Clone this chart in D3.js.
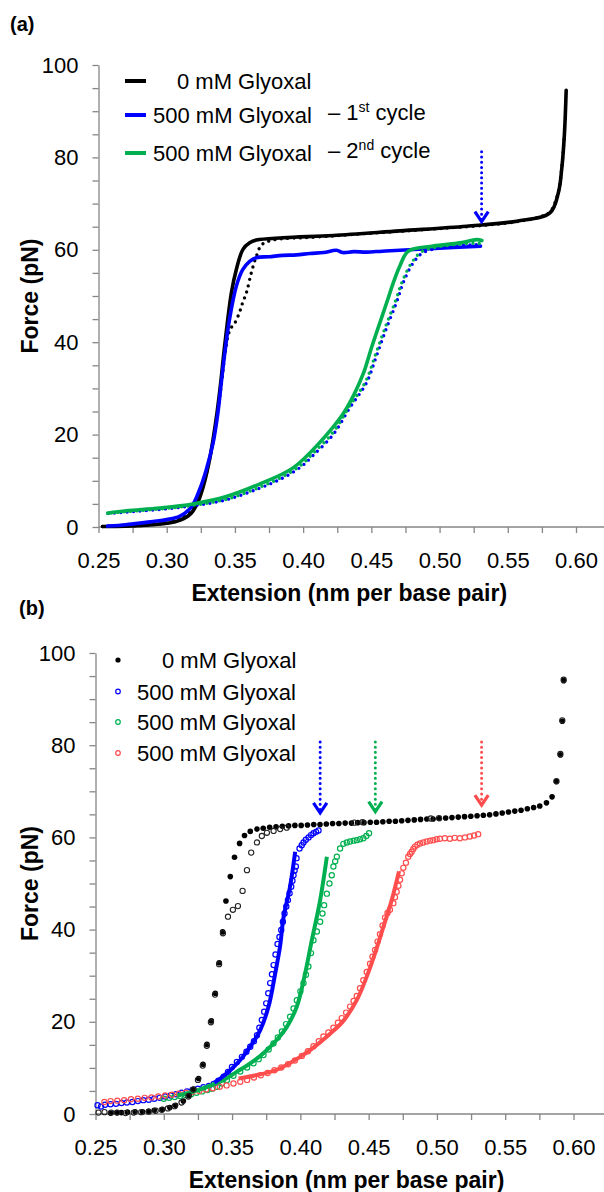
<!DOCTYPE html>
<html>
<head>
<meta charset="utf-8">
<script src="https://cdn.jsdelivr.net/npm/d3@7"></script>
<style>
    body { margin: 0; background: #fff; }
    svg { display: block; font-family: "Liberation Sans", Arial, sans-serif; }
</style>
</head>
<body>
<div id="chart"></div>
<script>
// extension (nm per base pair), force (pN)

/* panel (a) */
const blackStretchA = [[0.253,0.1],[0.27,0.2],[0.285,0.4],[0.30,0.8],[0.31,1.5],[0.318,3.0],[0.323,5.5],[0.327,9],[0.331,14],[0.334,19],[0.337,25],[0.3395,31],[0.3424,39],[0.3474,50.7],[0.351,55.7],[0.3559,60.1],[0.3608,61.5],[0.3657,62.1],[0.3852,62.6],[0.422,63.1],[0.4709,64.1],[0.5198,65.1],[0.5566,66.2],[0.5809,68],[0.5871,72.4],[0.5895,77.4],[0.5915,85],[0.5928,94.5]];
const blackReleaseA = [[0.253,0.1],[0.265,0.2],[0.28,0.3],[0.29,0.5],[0.30,0.9],[0.31,1.8],[0.318,3.5],[0.324,7],[0.329,11.5],[0.333,17],[0.337,24],[0.3405,32],[0.343,38],[0.3455,42],[0.3474,43.2],[0.350,44.2],[0.3535,46.6],[0.3557,48.6],[0.3584,50.7],[0.362,55],[0.3657,58.6],[0.3694,61],[0.375,61.9],[0.385,62.4],[0.40,62.6],[0.422,63.0],[0.445,63.5],[0.4709,64.0],[0.495,64.5],[0.5198,65.0],[0.54,65.5],[0.5566,66.1],[0.572,67],[0.5809,68.2],[0.5871,72.6],[0.5895,77.6],[0.5915,85]];
const blueStretchA = [[0.2566,0.2],[0.27,0.5],[0.282,0.9],[0.29,1.2],[0.300,1.6],[0.3094,2.3],[0.318,4.3],[0.324,8],[0.329,12.4],[0.334,18.2],[0.3375,24.7],[0.340,31.2],[0.3425,37.5],[0.346,44.9],[0.351,52.1],[0.3557,55.7],[0.3608,57.5],[0.3657,58.3],[0.375,58.5],[0.385,58.8],[0.395,58.9],[0.4049,59.2],[0.415,59.4],[0.4244,59.9],[0.429,59.4],[0.437,59.6],[0.4464,59.5],[0.458,59.7],[0.471,59.9],[0.49,60.2],[0.51,60.5],[0.53,60.8]];
const blueReleaseA = [[0.257,2.9],[0.27,3.2],[0.2948,3.8],[0.3192,4.6],[0.3437,5.9],[0.3681,8.4],[0.385,10.6],[0.3987,13.1],[0.4073,15.5],[0.422,20.0],[0.4342,25.8],[0.4464,31.2],[0.4537,37.0],[0.461,43.0],[0.4684,48.6],[0.4735,53],[0.4807,57.2],[0.488,59.4],[0.5075,60.7],[0.527,61.1],[0.531,61.0]];
const greenStretchA = [[0.2568,3.0],[0.2703,3.5],[0.2948,4.1],[0.3192,5.0],[0.3437,6.6],[0.3681,9.3],[0.3926,12.8],[0.4122,18.3],[0.4293,24.5],[0.437,28.5],[0.4445,33.5],[0.4501,38.8],[0.4574,45.2],[0.4623,49.5],[0.4665,53.2],[0.4709,56.5],[0.477,59.7],[0.4953,60.8],[0.515,61.5],[0.5272,62.2],[0.531,62.0]];
const greenReleaseA = [[0.257,3.0],[0.27,3.3],[0.2948,3.9],[0.3192,4.7],[0.3437,6.0],[0.3681,8.6],[0.385,10.9],[0.3985,13.4],[0.4068,15.8],[0.4215,20.3],[0.4337,26.0],[0.4458,31.5],[0.453,37.3],[0.4603,43.3],[0.4678,49.0],[0.473,53.4],[0.4802,57.5],[0.4875,59.7],[0.507,61.0],[0.527,61.4],[0.531,61.3]];

const legendA = ["0 mM Glyoxal", "500 mM Glyoxal", "500 mM Glyoxal"];
const cycleA = [null, ["1", "st"], ["2", "nd"]];
const arrowXA = [0.5308], arrowTopA = [81.2], arrowTipA = [66.1];

/* panel (b) */
const blackFilledB = [[0.261,0.2],[0.2655,0.3],[0.269,0.3],[0.2734,0.4],[0.279,0.5],[0.2845,0.5],[0.2888,0.6],[0.293,0.8],[0.299,1.0],[0.3044,1.4],[0.3086,1.9],[0.3143,2.8],[0.3185,4.0],[0.3219,5.4],[0.3255,7.7],[0.3287,10.8],[0.3316,15.1],[0.3348,20.2],[0.3377,26.2],[0.3406,32.8],[0.3431,39.5],[0.3455,46.2],[0.3487,51.5],[0.3518,55.7],[0.3555,58.7],[0.3591,60.4],[0.3633,61.3],[0.3682,61.8],[0.3728,62.0],[0.3775,62.2],[0.3822,62.3],[0.3868,62.4],[0.3914,62.5],[0.396,62.6],[0.4006,62.6],[0.4052,62.7],[0.4098,62.8],[0.4144,62.8],[0.419,62.9],[0.4236,63.0],[0.4282,63.0],[0.4328,63.1],[0.4374,63.1],[0.442,63.2],[0.4466,63.2],[0.4512,63.3],[0.4558,63.3],[0.4604,63.4],[0.465,63.5],[0.4696,63.5],[0.4742,63.6],[0.4788,63.7],[0.4834,63.8],[0.488,63.9],[0.4926,64.0],[0.4972,64.0],[0.5018,64.1],[0.5064,64.2],[0.511,64.3],[0.5156,64.4],[0.5202,64.5],[0.5248,64.6],[0.5294,64.7],[0.534,64.8],[0.5386,64.9],[0.5432,65.1],[0.5478,65.3],[0.5524,65.5],[0.557,65.7],[0.5616,65.9],[0.5662,66.2],[0.5708,66.5],[0.5753,66.8],[0.5802,67.5],[0.5843,68.8],[0.5875,72.1],[0.5904,77.9],[0.5918,85.2],[0.5928,94.0]];
const blackOpenB = [[0.2522,0.3],[0.2566,0.4],[0.2615,0.3],[0.266,0.3],[0.272,0.2],[0.278,0.3],[0.2835,0.4],[0.289,0.5],[0.294,0.7],[0.2985,0.9],[0.303,1.2],[0.308,1.7],[0.313,2.5],[0.318,3.8],[0.3215,5.3],[0.325,7.4],[0.3285,10.5],[0.3315,14.8],[0.3345,19.9],[0.3375,25.9],[0.3405,32.5],[0.3433,39.2],[0.347,42.8],[0.3506,44.3],[0.3543,45.1],[0.3577,48.4],[0.3609,52.9],[0.364,56.7],[0.3682,58.9],[0.3718,60.3],[0.3755,61.0],[0.3804,61.4],[0.3852,61.8],[0.39,62.1],[0.4395,63.2],[0.4455,63.3],[0.4955,64.1],[0.5015,64.2],[0.5875,72.2],[0.5904,78.1],[0.5918,85.4],[0.5928,94.2]];
const blueOpenB = [[0.2515,1.9],[0.254,1.6],[0.257,2.0],[0.261,2.1],[0.265,2.2],[0.269,2.4],[0.273,2.5],[0.277,2.6],[0.281,2.8],[0.285,3.0],[0.289,3.1],[0.293,3.3],[0.297,3.5],[0.301,3.8],[0.305,4.0],[0.309,4.3],[0.313,4.6],[0.317,4.9],[0.321,5.2],[0.325,5.5],[0.329,5.8],[0.333,6.1],[0.3365,6.5],[0.340,7.2],[0.3438,8.1],[0.347,9.1],[0.3499,10.2],[0.3535,11.3],[0.3572,12.4],[0.3605,13.5],[0.3633,14.6],[0.366,15.8],[0.3682,17.1],[0.370,18.7],[0.3718,20.4],[0.3735,22.2],[0.375,24.0],[0.3765,26.2],[0.3779,28.4],[0.3792,30.3],[0.3804,32.3],[0.3818,34.6],[0.3833,36.9],[0.3847,38.4],[0.386,39.9],[0.3872,41.7],[0.3884,43.5],[0.3897,45.0],[0.3909,46.4],[0.3921,47.9],[0.3933,49.3],[0.3942,50.6],[0.395,51.8],[0.3958,52.8],[0.3967,53.7],[0.3972,55.5],[0.3994,57.6],[0.401,58.3],[0.4023,58.9],[0.404,59.5],[0.406,60.0],[0.4078,60.5],[0.4096,60.9],[0.4115,61.2],[0.4133,61.5]];
const greenOpenB = [[0.300,3.3],[0.304,3.5],[0.308,3.7],[0.312,3.9],[0.316,4.1],[0.320,4.3],[0.324,4.6],[0.328,4.9],[0.332,5.2],[0.3355,5.5],[0.3389,5.9],[0.3425,6.6],[0.3463,7.4],[0.351,8.3],[0.356,9.2],[0.361,10.1],[0.3657,11.0],[0.3695,11.9],[0.373,12.8],[0.3768,14.0],[0.3803,15.3],[0.3835,16.6],[0.3865,17.9],[0.3895,19.5],[0.3925,21.1],[0.395,22.9],[0.3974,24.7],[0.400,26.6],[0.4023,28.4],[0.4041,30.2],[0.4059,32.0],[0.4078,34.9],[0.4096,37.7],[0.4121,39.6],[0.4145,41.7],[0.4162,43.5],[0.4174,45.3],[0.4194,47.8],[0.4213,50.0],[0.423,51.8],[0.4242,53.7],[0.4255,54.8],[0.4267,55.8],[0.4291,57.6],[0.4315,58.6],[0.434,58.9],[0.4364,59.1],[0.439,59.3],[0.4413,59.4],[0.4437,59.6],[0.4461,59.8],[0.4483,60.3],[0.4503,60.9]];
const redOpenB = [[0.2565,2.6],[0.261,2.8],[0.266,2.9],[0.271,3.0],[0.276,3.2],[0.281,3.3],[0.286,3.5],[0.291,3.6],[0.296,3.8],[0.301,4.0],[0.306,4.2],[0.311,4.4],[0.316,4.6],[0.321,4.8],[0.326,5.0],[0.331,5.3],[0.336,5.6],[0.341,5.9],[0.346,6.2],[0.351,6.6],[0.356,7.0],[0.361,7.4],[0.366,7.9],[0.371,8.4],[0.376,8.9],[0.381,9.5],[0.386,10.1],[0.391,10.8],[0.396,11.6],[0.4011,12.6],[0.4055,13.6],[0.4096,14.7],[0.4135,15.8],[0.4169,16.8],[0.4205,17.7],[0.4242,18.7],[0.4275,19.8],[0.4303,20.8],[0.4335,22.0],[0.4364,23.3],[0.439,24.5],[0.4413,25.6],[0.4437,27.3],[0.4461,29.0],[0.4486,30.8],[0.451,32.6],[0.4528,34.1],[0.4547,35.6],[0.4565,37.4],[0.4583,39.0],[0.4602,40.9],[0.462,42.6],[0.4638,43.6],[0.4656,44.3],[0.4681,45.7],[0.4693,47.0],[0.4705,48.2],[0.4718,49.5],[0.473,50.8],[0.4742,52.2],[0.4754,53.4],[0.4773,54.5],[0.479,55.8],[0.4803,56.4],[0.4815,56.9],[0.4827,57.5],[0.4839,58.0],[0.4857,58.4],[0.4876,58.7],[0.49,58.9],[0.4925,59.1],[0.495,59.3],[0.4973,59.4],[0.4998,59.6],[0.5022,59.7],[0.5058,59.8],[0.5095,59.7],[0.513,59.9],[0.5168,59.8],[0.5205,60.0],[0.5241,60.2],[0.5272,60.4],[0.5302,60.7]];
const blueLineB = [[0.337,6.8],[0.3414,7.7],[0.3487,9.5],[0.356,11.7],[0.3633,14.6],[0.3706,18.2],[0.3767,23.3],[0.3816,30.5],[0.3852,36.5],[0.3876,42.5],[0.3925,49.4],[0.3962,56.9]];
const greenLineB = [[0.310,4.0],[0.325,5.2],[0.3438,7.4],[0.3536,9.2],[0.3633,11.0],[0.373,13.2],[0.3828,16.1],[0.3901,18.9],[0.3974,23.3],[0.4035,30.5],[0.4084,37.7],[0.4145,46.4],[0.4194,55.8]];
const redLineB = [[0.3548,7.7],[0.3657,8.3],[0.3828,9.6],[0.3999,12.4],[0.4096,14.4],[0.4218,17.4],[0.4315,20.2],[0.4413,24.7],[0.4486,29.8],[0.4547,34.9],[0.4608,40.6],[0.4669,46.4],[0.4722,52.6]];

const legendB = ["0 mM Glyoxal", "500 mM Glyoxal", "500 mM Glyoxal", "500 mM Glyoxal"];
const arrowXB = [0.4145, 0.4549, 0.5327], arrowTopB = [80.7, 80.7, 80.7], arrowTipB = [65.3, 65.6, 67.0];

const xTicks = [0.25, 0.30, 0.35, 0.40, 0.45, 0.50, 0.55, 0.60];
const yTicks = [0, 20, 40, 60, 80, 100];

const BLUE = "#0000ff", GREEN = "#00b050", RED = "#ff4d4d", AXIS = "#868686";
const W = 604, H = 1192;

const svg = d3.select("#chart").append("svg")
    .attr("width", W)
    .attr("height", H);

function drawAxes(x, y, title) {
    const minorX = d3.range(10, 26).map(i => +(i * 0.025).toFixed(3));
    const minorY = d3.range(0, 21).map(i => i * 5);

    const gx = svg.append("g")
        .attr("transform", `translate(0, ${y(0)})`)
        .call(d3.axisBottom(x)
            .tickValues(minorX)
            .tickSize(6)
            .tickPadding(19)
            .tickFormat(d => xTicks.some(t => Math.abs(t - d) < 1e-6) ? d3.format(".2f")(d) : ""));
    gx.select(".domain").remove();
    gx.append("line")
        .attr("x1", x(0.25)).attr("x2", W)
        .attr("stroke", AXIS).attr("stroke-width", 1.3);

    const gy = svg.append("g")
        .attr("transform", `translate(${x(0.25)}, 0)`)
        .call(d3.axisLeft(y)
            .tickValues(minorY)
            .tickSize(6)
            .tickSizeOuter(0)
            .tickPadding(14)
            .tickFormat(d => yTicks.includes(d) ? d : ""));

    [gx, gy].forEach(g => {
        g.attr("font-size", 22).attr("font-family", null);
        g.selectAll("line, path").attr("stroke", AXIS).attr("stroke-width", 1.3);
        g.selectAll("text").attr("fill", "#000");
    });

    svg.append("text")
        .attr("x", (x(0.25) + x(0.60)) / 2 + 12)
        .attr("y", y(0) + 74)
        .attr("text-anchor", "middle")
        .attr("font-size", 23)
        .attr("font-weight", "bold")
        .text("Extension (nm per base pair)");

    svg.append("text")
        .attr("transform", `translate(38, ${(y(0) + y(100)) / 2}) rotate(-90)`)
        .attr("text-anchor", "middle")
        .attr("font-size", 23)
        .attr("font-weight", "bold")
        .text("Force (pN)");

    svg.append("text")
        .attr("x", title.x).attr("y", title.y)
        .attr("font-size", 20)
        .attr("font-weight", "bold")
        .text(title.t);
}

function drawArrows(x, y, xs, tops, tips, colors) {
    xs.forEach((v, i) => {
        const px = x(v), pTop = y(tops[i]), pTip = y(tips[i]);
        svg.append("line")
            .attr("x1", px).attr("x2", px)
            .attr("y1", pTop).attr("y2", pTip - 2)
            .attr("stroke", colors[i])
            .attr("stroke-width", 3)
            .attr("stroke-linecap", "round")
            .attr("stroke-dasharray", "0 5.2");
        svg.append("path")
            .attr("d", `M${px - 6.7},${pTip - 10}L${px},${pTip}L${px + 6.7},${pTip - 10}`)
            .attr("fill", "none")
            .attr("stroke", colors[i])
            .attr("stroke-width", 3.2);
    });
}

/* ---------- panel (a) ---------- */
const xA = d3.scaleLinear().domain([0.25, 0.60]).range([98.5, 576]);
const yA = d3.scaleLinear().domain([0, 100]).range([527, 65]);
drawAxes(xA, yA, {x: 10, y: 31, t: "(a)"});

const lineA = d3.line()
    .x(d => xA(d[0]))
    .y(d => yA(d[1]))
    .curve(d3.curveCatmullRom.alpha(0.5));

const seriesA = [
    {data: blackStretchA, color: "#000", dotted: false, off: 0},
    {data: blackReleaseA, color: "#000", dotted: true, off: 0},
    {data: blueStretchA, color: BLUE, dotted: false, off: 0},
    {data: blueReleaseA, color: BLUE, dotted: true, off: 0},
    {data: greenReleaseA, color: GREEN, dotted: true, off: 3},
    {data: greenStretchA, color: GREEN, dotted: false, off: 0}
];

svg.selectAll(".curveA")
    .data(seriesA)
    .enter()
    .append("path")
    .attr("class", "curveA")
    .attr("d", d => lineA(d.data))
    .attr("fill", "none")
    .attr("stroke", d => d.color)
    .attr("stroke-width", d => d.dotted ? 3.4 : 3.6)
    .attr("stroke-linecap", "round")
    .attr("stroke-linejoin", "round")
    .attr("stroke-dasharray", d => d.dotted ? "0 6.4" : null)
    .attr("stroke-dashoffset", d => d.off);

drawArrows(xA, yA, arrowXA, arrowTopA, arrowTipA, [BLUE]);

/* legend (a) */
const legColorsA = ["#000", BLUE, GREEN];
const legYA = [81, 115, 153];
legendA.forEach((label, i) => {
    svg.append("line")
        .attr("x1", 125).attr("x2", 146)
        .attr("y1", legYA[i]).attr("y2", legYA[i])
        .attr("stroke", legColorsA[i])
        .attr("stroke-width", 4);
    svg.append("text")
        .attr("x", i === 0 ? 177 : 153)
        .attr("y", legYA[i] + 8)
        .attr("font-size", 22)
        .text(label);
    if (cycleA[i]) {
        const t = svg.append("text")
            .attr("x", 328)
            .attr("y", legYA[i] + 5)
            .attr("font-size", 22);
        t.append("tspan").text("\u2013 " + cycleA[i][0]);
        t.append("tspan").attr("dy", -8).attr("font-size", 14).text(cycleA[i][1]);
        t.append("tspan").attr("dy", 8).text(" cycle");
    }
});

/* ---------- panel (b) ---------- */
const xB = d3.scaleLinear().domain([0.25, 0.60]).range([95.5, 573.5]);
const yB = d3.scaleLinear().domain([0, 100]).range([1114, 653]);
drawAxes(xB, yB, {x: 19, y: 615, t: "(b)"});

const lineB = d3.line()
    .x(d => xB(d[0]))
    .y(d => yB(d[1]))
    .curve(d3.curveCatmullRom.alpha(0.5));

const openSets = [
    {data: blueOpenB, color: BLUE},
    {data: greenOpenB, color: GREEN},
    {data: redOpenB, color: RED}
];
openSets.forEach(s => {
    svg.append("g")
        .selectAll("circle")
        .data(s.data)
        .enter()
        .append("circle")
        .attr("cx", d => xB(d[0]))
        .attr("cy", d => yB(d[1]))
        .attr("r", 2.6)
        .attr("fill", "none")
        .attr("stroke", s.color)
        .attr("stroke-width", 1.2);
});

[[redLineB, RED], [greenLineB, GREEN], [blueLineB, BLUE]].forEach(([data, color]) => {
    svg.append("path")
        .attr("d", lineB(data))
        .attr("fill", "none")
        .attr("stroke", color)
        .attr("stroke-width", 4)
        .attr("stroke-linecap", "butt");
});

svg.append("g")
    .selectAll("circle")
    .data(blackFilledB)
    .enter()
    .append("circle")
    .attr("cx", d => xB(d[0]))
    .attr("cy", d => yB(d[1]))
    .attr("r", 2.8)
    .attr("fill", "#000");

svg.append("g")
    .selectAll("circle")
    .data(blackOpenB)
    .enter()
    .append("circle")
    .attr("cx", d => xB(d[0]))
    .attr("cy", d => yB(d[1]))
    .attr("r", 2.6)
    .attr("fill", "none")
    .attr("stroke", "#222")
    .attr("stroke-width", 1.1);

drawArrows(xB, yB, arrowXB, arrowTopB, arrowTipB, [BLUE, GREEN, RED]);

/* legend (b) */
const legColorsB = ["#000", BLUE, GREEN, RED];
const legYB = [660, 691.5, 722, 753];
legendB.forEach((label, i) => {
    svg.append("circle")
        .attr("cx", 118).attr("cy", legYB[i])
        .attr("r", i === 0 ? 2.6 : 2.3)
        .attr("fill", i === 0 ? "#000" : "none")
        .attr("stroke", legColorsB[i])
        .attr("stroke-width", i === 0 ? 0 : 1.2);
    svg.append("text")
        .attr("x", i === 0 ? 162 : 137)
        .attr("y", legYB[i] + 8)
        .attr("font-size", 22)
        .text(label);
});
</script>
</body>
</html>
